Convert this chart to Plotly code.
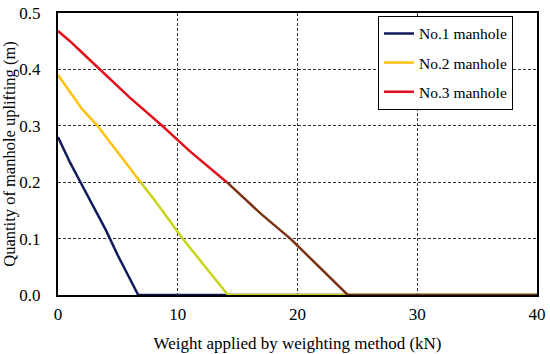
import plotly.graph_objects as go

# Data
x1 = [0, 1, 2, 3, 4, 5, 6, 6.7, 14.2, 24.2, 40]
y1 = [0.28, 0.235, 0.195, 0.155, 0.115, 0.07, 0.028, 0.0, 0.0, 0.0, 0.0]

x2 = [0, 1, 2, 3.3, 5, 6.9, 8, 10.4, 12, 14.2, 24.2, 40]
y2 = [0.39, 0.36, 0.33, 0.30, 0.253, 0.20, 0.17, 0.10, 0.058, 0.0, 0.0, 0.0]
split2 = 5  # index where colour changes (y=0.2)

x3 = [0, 1, 2, 3.5, 6, 8.7, 11, 14.1, 17, 19.4, 22, 24.2, 40]
y3 = [0.468, 0.45, 0.43, 0.40, 0.35, 0.30, 0.255, 0.20, 0.143, 0.10, 0.045, 0.0, 0.0]
split3 = 7  # index where colour changes (y=0.2)

names = ["No.1 manhole", "No.2 manhole", "No.3 manhole"]
c_navy = "#101a5c"
c_yel = "#ffc20e"
c_yg = "#c9d41c"
c_red = "#e3101b"
c_brown = "#7a3212"

xticks = [0, 10, 20, 30, 40]
yticks = [0.0, 0.1, 0.2, 0.3, 0.4, 0.5]

FONT = "Liberation Serif"
LW = 2.5

fig = go.Figure()
fig.add_trace(go.Scatter(x=x1, y=y1, mode="lines", name=names[0], legendgroup="a",
                         line=dict(color=c_navy, width=LW)))
fig.add_trace(go.Scatter(x=x2[:split2 + 1], y=y2[:split2 + 1], mode="lines", name=names[1],
                         legendgroup="b", line=dict(color=c_yel, width=LW)))
fig.add_trace(go.Scatter(x=x2[split2:], y=y2[split2:], mode="lines", showlegend=False,
                         legendgroup="b", line=dict(color=c_yg, width=LW)))
fig.add_trace(go.Scatter(x=x3[:split3 + 1], y=y3[:split3 + 1], mode="lines", name=names[2],
                         legendgroup="c", line=dict(color=c_red, width=LW)))
fig.add_trace(go.Scatter(x=x3[split3:], y=y3[split3:], mode="lines", showlegend=False,
                         legendgroup="c", line=dict(color=c_brown, width=LW)))

fig.update_layout(
    width=550, height=354,
    margin=dict(l=57.5, r=12.5, t=13, b=59, autoexpand=False),
    paper_bgcolor="white", plot_bgcolor="white",
    font=dict(family=FONT, size=17, color="black"),
    legend=dict(x=0.668, y=0.99, xanchor="left", yanchor="top",
                bgcolor="white", bordercolor="black", borderwidth=1,
                font=dict(family=FONT, size=15.5), tracegroupgap=6,
                itemwidth=30),
    showlegend=True,
)
fig.update_xaxes(
    range=[0, 40], tickvals=xticks, ticktext=[str(v) for v in xticks],
    showline=True, mirror=True, linecolor="black", linewidth=2,
    showgrid=True, gridcolor="#333333", gridwidth=1, griddash="3px,2px",
    zeroline=False, ticks="", ticklabelstandoff=3, automargin=False,
    title=dict(text="Weight applied by weighting method (kN)", font=dict(size=17), standoff=14),
)
fig.update_yaxes(
    range=[0, 0.5], tickvals=yticks, ticktext=[f"{v:.1f}" for v in yticks],
    showline=True, mirror=True, linecolor="black", linewidth=2,
    showgrid=True, gridcolor="#333333", gridwidth=1, griddash="3px,2px",
    zeroline=False, ticks="", ticklabelstandoff=12, automargin=False,
    title=dict(text="Quantity of manhole uplifting (m)", font=dict(size=16.5), standoff=0),
)

fig.write_html("out.html", config={"displayModeBar": False},
               post_script="document.body.style.margin='0';document.body.style.padding='0';")
